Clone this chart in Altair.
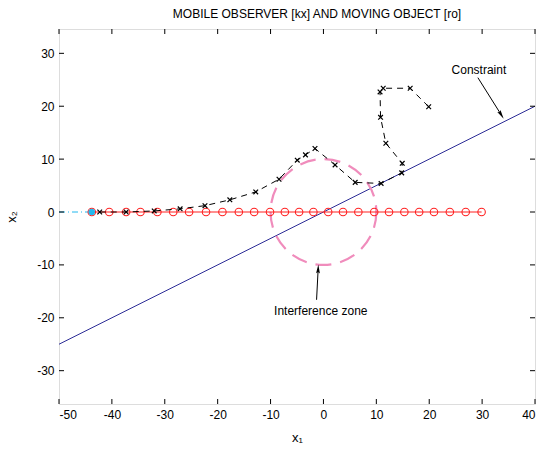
import altair as alt
import pandas as pd

# Moving object (red circles on x2 = 0)
obj_x = [-43.8, -40.5, -37.3, -34.6, -31.4, -28.4, -25.4, -22.2, -19.1, -16.0,
         -13.1, -10.1, -7.3, -4.6, -1.9, 0.9, 3.7, 6.6, 9.6, 12.4,
         15.3, 18.1, 20.9, 23.9, 26.9, 29.9]
obj_y = [0.0] * len(obj_x)

# Mobile observer (black x, dashed)
obs_x = [-42.3, -37.3, -32.0, -27.1, -22.4, -17.7, -12.8, -8.4, -4.95, -3.4,
         -1.6, 2.2, 6.0, 10.9, 14.8, 14.9, 11.8, 10.8, 10.7, 11.3, 16.4, 19.9]
obs_y = [0.0, 0.0, 0.2, 0.6, 1.2, 2.3, 3.8, 6.2, 9.8, 10.8,
         12.0, 8.9, 5.6, 5.4, 7.4, 9.2, 13.0, 17.9, 22.7, 23.4, 23.4, 19.9]

# Cyan lead-in
lead_x = [-50.0, -43.8]
lead_y = [0.0, 0.0]

# Constraint line x2 = 0.5 x1
con_x = [-50.0, 40.0]
con_y = [-25.0, 20.0]

# Interference zone centre (radius 10)
zone_x = [0.0]
zone_y = [0.0]

x_ticks = [-50, -40, -30, -20, -10, 0, 10, 20, 30, 40]
y_ticks = [-30, -20, -10, 0, 10, 20, 30]

XD = [-50, 40]
YD = [-36.3, 34.6]
W, H = 476, 375

xs = alt.Scale(domain=XD, nice=False, zero=False)
ys = alt.Scale(domain=YD, nice=False, zero=False)

FONT = "Liberation Sans"
FS = 12

obj = pd.DataFrame({"x": obj_x, "y": obj_y, "i": range(len(obj_x))})
obs = pd.DataFrame({"x": obs_x, "y": obs_y, "i": range(len(obs_x))})
lead = pd.DataFrame({"x": lead_x, "y": lead_y})
con = pd.DataFrame({"x": con_x, "y": con_y})
zone = pd.DataFrame({"x": zone_x, "y": zone_y})

X = alt.X("x:Q", scale=xs,
          axis=alt.Axis(values=x_ticks, tickSize=0, grid=False, domain=False,
                        labelPadding=5, labelFontSize=FS, labelFont=FONT,
                        labelColor="black", labelExpr="'' + datum.value",
                        title="x₁", titleFont=FONT,
                        titleFontSize=13, titleFontWeight="normal",
                        titleColor="black", titlePadding=11))
Y = alt.Y("y:Q", scale=ys,
          axis=alt.Axis(values=y_ticks, tickSize=0, grid=False, domain=False,
                        labelPadding=5, labelFontSize=FS, labelFont=FONT,
                        labelColor="black", labelExpr="'' + datum.value",
                        title="x₂", titleFont=FONT,
                        titleFontSize=13, titleFontWeight="normal",
                        titleColor="black", titlePadding=18))

constraint = alt.Chart(con).mark_line(color="#2B2B96", strokeWidth=1).encode(
    x=X, y=Y)

zone_c = alt.Chart(zone).mark_point(shape="circle", size=105.8 * 105.8,
                                    filled=False, color="#F08CBC",
                                    strokeWidth=2.2, opacity=1,
                                    strokeDash=[16, 9]).encode(
    x=alt.X("x:Q", scale=xs), y=alt.Y("y:Q", scale=ys))

lead_l = alt.Chart(lead).mark_line(color="#22B8EE", strokeWidth=1,
                                   strokeDash=[6, 3, 1, 3]).encode(
    x=alt.X("x:Q", scale=xs), y=alt.Y("y:Q", scale=ys))

obj_line = alt.Chart(obj).mark_line(color="#FF2020", strokeWidth=1.2).encode(
    x=alt.X("x:Q", scale=xs), y=alt.Y("y:Q", scale=ys), order="i:Q")
obj_pts = alt.Chart(obj).mark_point(shape="circle", size=56, filled=False,
                                    color="#FF2020", strokeWidth=1.1,
                                    opacity=1).encode(
    x=alt.X("x:Q", scale=xs), y=alt.Y("y:Q", scale=ys))

obs_line = alt.Chart(obs).mark_line(color="black", strokeWidth=1,
                                    strokeDash=[6, 5]).encode(
    x=alt.X("x:Q", scale=xs), y=alt.Y("y:Q", scale=ys), order="i:Q")
obs_pts = alt.Chart(obs).mark_point(shape="M-1,-1L1,1M-1,1L1,-1", size=22,
                                    filled=False, color="black",
                                    strokeWidth=1.2, opacity=1).encode(
    x=alt.X("x:Q", scale=xs), y=alt.Y("y:Q", scale=ys))

start_pt = alt.Chart(pd.DataFrame({"x": [lead_x[1]], "y": [lead_y[1]]})).mark_point(
    shape="circle", size=42, filled=True, color="#22B8EE", opacity=1).encode(
    x=alt.X("x:Q", scale=xs), y=alt.Y("y:Q", scale=ys))

# Annotations
ann_txt = pd.DataFrame({"x": [29.4, -0.5], "y": [26.9, -18.8],
                        "t": ["Constraint", "Interference zone"]})
texts = alt.Chart(ann_txt).mark_text(font=FONT, fontSize=FS, color="black").encode(
    x=alt.X("x:Q", scale=xs), y=alt.Y("y:Q", scale=ys), text="t:N")

arrows = pd.DataFrame({"x": [29.2, -1.3], "y": [25.4, -16.6],
                       "x2": [33.6, -1.0], "y2": [18.4, -10.8]})
arrow_l = alt.Chart(arrows).mark_rule(color="black", strokeWidth=1).encode(
    x=alt.X("x:Q", scale=xs), y=alt.Y("y:Q", scale=ys), x2="x2:Q", y2="y2:Q")
heads = pd.DataFrame({"x": [33.6, -1.0], "y": [18.4, -10.8], "a": [148, 2]})
arrow_h = alt.Chart(heads).mark_point(shape="M0,-1L0.4,0.9L0,0.6L-0.4,0.9Z",
                                      size=90, filled=True, color="black",
                                      opacity=1).encode(
    x=alt.X("x:Q", scale=xs), y=alt.Y("y:Q", scale=ys),
    angle=alt.Angle("a:Q", scale=None))

# Inward ticks on all four sides
xt = pd.DataFrame({"x": x_ticks})
yt = pd.DataFrame({"y": y_ticks})
tick_b = alt.Chart(xt).mark_rule(color="black", strokeWidth=1).encode(
    x=alt.X("x:Q", scale=xs), y=alt.value(H), y2=alt.value(H - 5))
tick_t = alt.Chart(xt).mark_rule(color="black", strokeWidth=1).encode(
    x=alt.X("x:Q", scale=xs), y=alt.value(0), y2=alt.value(5))
tick_l = alt.Chart(yt).mark_rule(color="black", strokeWidth=1).encode(
    y=alt.Y("y:Q", scale=ys), x=alt.value(0), x2=alt.value(5))
tick_r = alt.Chart(yt).mark_rule(color="black", strokeWidth=1).encode(
    y=alt.Y("y:Q", scale=ys), x=alt.value(W), x2=alt.value(W - 5))

chart = alt.layer(
    constraint, zone_c, lead_l, obj_line, obj_pts, obs_line, obs_pts, start_pt,
    arrow_l, arrow_h, texts, tick_b, tick_t, tick_l, tick_r
).properties(
    width=W, height=H,
    title=alt.TitleParams("MOBILE OBSERVER [kx] AND MOVING OBJECT [ro]",
                          font=FONT, fontSize=12, fontWeight="normal",
                          color="black", anchor="middle", offset=8, dx=20),
    autosize=alt.AutoSizeParams(type="none"),
    padding={"left": 59, "top": 29, "right": 7, "bottom": 45},
).configure_view(stroke="black", strokeWidth=1.3).configure(background="white")

chart.save("out.html", embed_options={"renderer": "svg", "actions": False})
